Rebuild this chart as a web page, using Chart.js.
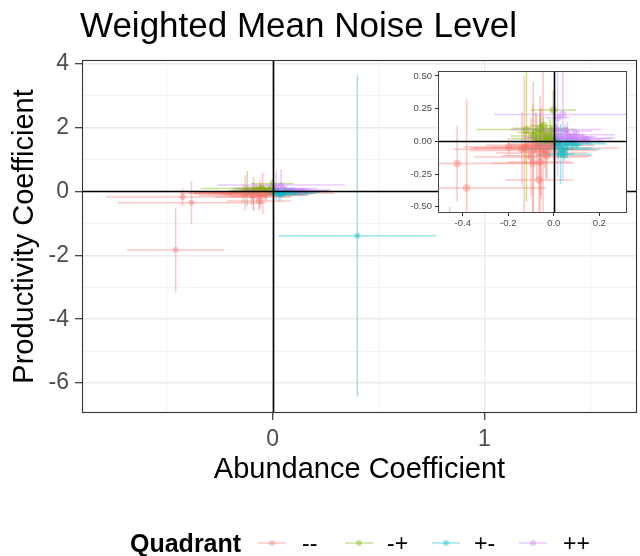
<!DOCTYPE html>
<html><head><meta charset="utf-8">
<script src="https://cdn.jsdelivr.net/npm/chart.js@4.4.0/dist/chart.umd.min.js"></script>
<style>
html,body{margin:0;padding:0;background:#fff;}
#wrap{position:relative;width:640px;height:556px;overflow:hidden;}
#main{position:absolute;left:0;top:0;}
#inset{position:absolute;left:400px;top:62px;}
</style></head><body>
<div id="wrap"><canvas id="main" width="640" height="556"></canvas><canvas id="inset" width="235" height="175"></canvas></div>
<script>
// ---------- data ----------
const quadrants = ['--', '-+', '+-', '++'];
const quadColors = ['#F8766D', '#7CAE00', '#00BFC4', '#C77CFF'];

const negNegX    = [-0.458, -0.425, -0.383, -0.198, -0.130, -0.126, -0.092, -0.060, -0.065, -0.047, -0.090, -0.110, -0.075, -0.035, -0.020, -0.055, -0.100, -0.015, -0.040, -0.080, -0.140, -0.030, -0.060];
const negNegY    = [-1.830, -0.170, -0.356, -0.043, -0.050, -0.046, -0.166, -0.158, -0.295, -0.060, -0.070, -0.030, -0.040, -0.080, -0.035, -0.090, -0.120, -0.020, -0.050, -0.020, -0.060, -0.110, -0.030];
const negNegXErr = [0.230, 0.360, 0.350, 0.200, 0.220, 0.150, 0.180, 0.140, 0.150, 0.140, 0.280, 0.080, 0.100, 0.090, 0.060, 0.200, 0.250, 0.050, 0.330, 0.120, 0.300, 0.200, 0.240];
const negNegYErr = [1.330, 0.290, 0.680, 0.070, 0.550, 0.120, 0.450, 0.400, 0.300, 0.640, 0.520, 0.100, 0.250, 0.200, 0.080, 0.350, 0.300, 0.050, 0.150, 0.060, 0.280, 0.180, 0.380];

const negPosX    = [-0.002, -0.120, -0.050, -0.030, -0.070, -0.015, -0.040, -0.090, -0.020, -0.060, -0.010, -0.005, -0.080, -0.045];
const negPosY    = [0.240, 0.090, 0.060, 0.030, 0.020, 0.080, 0.010, 0.040, 0.015, 0.100, 0.040, 0.005, 0.070, 0.120];
const negPosXErr = [0.100, 0.220, 0.090, 0.060, 0.120, 0.070, 0.050, 0.100, 0.030, 0.120, 0.030, 0.020, 0.080, 0.060];
const negPosYErr = [0.150, 0.550, 0.080, 0.050, 0.040, 0.090, 0.030, 0.060, 0.030, 0.100, 0.080, 0.020, 0.150, 0.070];

const posNegX    = [0.400, 0.030, 0.079, 0.020, 0.050, 0.010, 0.100, 0.035, 0.015, 0.060, 0.045];
const posNegY    = [-1.390, -0.097, -0.018, -0.030, -0.050, -0.010, -0.020, -0.060, -0.005, -0.010, -0.100];
const posNegXErr = [0.372, 0.060, 0.150, 0.100, 0.120, 0.040, 0.070, 0.170, 0.200, 0.030, 0.120];
const posNegYErr = [5.030, 0.230, 0.050, 0.100, 0.080, 0.030, 0.040, 0.060, 0.020, 0.120, 0.050];

const posPosX    = [0.040, 0.085, 0.127, 0.060, 0.020, 0.100, 0.035, 0.017, 0.145, 0.010, 0.070, 0.010, 0.100, 0.050];
const posPosY    = [0.205, 0.036, 0.020, 0.050, 0.030, 0.010, 0.015, 0.180, 0.012, 0.090, 0.025, 0.005, 0.050, 0.080];
const posPosXErr = [0.300, 0.100, 0.130, 0.080, 0.150, 0.060, 0.050, 0.050, 0.070, 0.200, 0.200, 0.030, 0.170, 0.120];
const posPosYErr = [0.500, 0.060, 0.040, 0.100, 0.080, 0.030, 0.050, 0.450, 0.030, 0.050, 0.040, 0.020, 0.040, 0.050];

// tick values / labels
const mainXMajor = [0, 1];
const mainXMajorLabels = ['0', '1'];
const mainXMinor = [-0.5, 0.5, 1.5];
const mainYMajor = [-6, -4, -2, 0, 2, 4];
const mainYMajorLabels = ['-6', '-4', '-2', '0', '2', '4'];
const mainYMinor = [-5, -3, -1, 1, 3];
const insetXTicks = [-0.4, -0.2, 0, 0.2];
const insetXLabels = ['-0.4', '-0.2', '0.0', '0.2'];
const insetYTicks = [-0.5, -0.25, 0, 0.25, 0.5];
const insetYLabels = ['-0.50', '-0.25', '0.00', '0.25', '0.50'];

const titleText = 'Weighted Mean Noise Level';
const xTitle = 'Abundance Coefficient';
const yTitle = 'Productivity Coefficient';
const legendTitle = 'Quadrant';

// ---------- helpers ----------
const FONT = '"Liberation Sans", Arial, sans-serif';
const ALPHA = 0.4;
function rgba(hex, a) {
  const n = parseInt(hex.slice(1), 16);
  return `rgba(${(n >> 16) & 255},${(n >> 8) & 255},${n & 255},${a})`;
}
const series = [
  [negNegX, negNegY, negNegXErr, negNegYErr],
  [negPosX, negPosY, negPosXErr, negPosYErr],
  [posNegX, posNegY, posNegXErr, posNegYErr],
  [posPosX, posPosY, posPosXErr, posPosYErr]
];
function makeDatasets(radius) {
  return series.map((s, i) => ({
    label: quadrants[i],
    data: s[0].map((x, j) => ({ x: x, y: s[1][j] })),
    xErr: s[2], yErr: s[3],
    backgroundColor: rgba(quadColors[i], ALPHA),
    borderWidth: 0,
    pointRadius: radius,
    pointHoverRadius: radius
  }));
}

const errorBars = {
  id: 'errorBars',
  beforeDatasetsDraw(chart, args, opts) {
    const { ctx, chartArea: a, scales } = chart;
    const sx = scales.x, sy = scales.y;
    ctx.save();
    ctx.beginPath();
    ctx.rect(a.left, a.top, a.right - a.left, a.bottom - a.top);
    ctx.clip();
    ctx.lineWidth = opts.lineWidth || 1.5;
    chart.data.datasets.forEach((ds, i) => {
      ctx.strokeStyle = rgba(quadColors[i], ALPHA);
      ds.data.forEach((p, j) => {
        const xe = ds.xErr[j], ye = ds.yErr[j];
        const px = sx.getPixelForValue(p.x), py = sy.getPixelForValue(p.y);
        ctx.beginPath();
        ctx.moveTo(sx.getPixelForValue(p.x - xe), py);
        ctx.lineTo(sx.getPixelForValue(p.x + xe), py);
        ctx.stroke();
        ctx.beginPath();
        ctx.moveTo(px, sy.getPixelForValue(p.y - ye));
        ctx.lineTo(px, sy.getPixelForValue(p.y + ye));
        ctx.stroke();
      });
    });
    ctx.restore();
  },
  afterDatasetsDraw(chart, args, opts) {
    const { ctx, chartArea: a, scales } = chart;
    const x0 = Math.round(scales.x.getPixelForValue(0)) + 0.5;
    const y0 = Math.round(scales.y.getPixelForValue(0)) + 0.5;
    ctx.save();
    ctx.strokeStyle = '#000';
    ctx.lineWidth = opts.zeroWidth || 1.6;
    ctx.beginPath();
    ctx.moveTo(a.left, y0); ctx.lineTo(a.right, y0);
    ctx.moveTo(x0, a.top); ctx.lineTo(x0, a.bottom);
    ctx.stroke();
    ctx.strokeStyle = '#333333';
    ctx.lineWidth = opts.borderWidth || 1.1;
    ctx.strokeRect(a.left + 0.5, a.top + 0.5, a.right - a.left - 1, a.bottom - a.top - 1);
    ctx.restore();
  },
  beforeDraw(chart, args, opts) {
    if (!opts.panelFill) return;
    const { ctx, chartArea: a } = chart;
    ctx.save();
    ctx.fillStyle = opts.panelFill;
    ctx.fillRect(a.left, a.top, a.right - a.left, a.bottom - a.top);
    ctx.restore();
  }
};

const decorations = {
  id: 'decorations',
  afterDraw(chart) {
    const ctx = chart.ctx;
    ctx.save();
    ctx.fillStyle = '#000';
    ctx.textBaseline = 'alphabetic';
    // title
    ctx.font = `35px ${FONT}`;
    ctx.textAlign = 'left';
    ctx.fillText(titleText, 80, 37);
    // x title
    ctx.font = `29px ${FONT}`;
    ctx.textAlign = 'center';
    const a = chart.chartArea;
    ctx.fillText(xTitle, (a.left + a.right) / 2, 478);
    // y title
    ctx.save();
    ctx.translate(33, (a.top + a.bottom) / 2);
    ctx.rotate(-Math.PI / 2);
    ctx.fillText(yTitle, 0, 0);
    ctx.restore();
    // legend
    ctx.textAlign = 'left';
    ctx.font = `bold 25px ${FONT}`;
    ctx.fillText(legendTitle, 130, 552);
    const keyCenters = [272, 359, 446, 533];
    const labelX = [302, 387, 474, 563];
    const ly = 543;
    ctx.font = `23px ${FONT}`;
    quadrants.forEach((q, i) => {
      ctx.strokeStyle = rgba(quadColors[i], ALPHA);
      ctx.lineWidth = 1.5;
      ctx.beginPath();
      ctx.moveTo(keyCenters[i] - 14, ly);
      ctx.lineTo(keyCenters[i] + 14, ly);
      ctx.stroke();
      ctx.fillStyle = rgba(quadColors[i], ALPHA);
      ctx.beginPath();
      ctx.arc(keyCenters[i], ly, 3, 0, Math.PI * 2);
      ctx.fill();
      ctx.fillStyle = '#000';
      ctx.fillText(q, labelX[i], 551);
    });
    ctx.restore();
  }
};

// ---------- main chart ----------
function isIn(arr, v) { return arr.some(m => Math.abs(m - v) < 1e-9); }
const mainXTicks = mainXMinor.concat(mainXMajor).sort((a, b) => a - b);
const mainYTicks = mainYMinor.concat(mainYMajor).sort((a, b) => a - b);

new Chart(document.getElementById('main'), {
  type: 'scatter',
  data: { datasets: makeDatasets(3) },
  plugins: [errorBars, decorations],
  options: {
    responsive: false, animation: false, devicePixelRatio: 1,
    layout: { padding: { left: 0, right: 1, top: 60, bottom: 0 } },
    plugins: {
      legend: { display: false }, title: { display: false }, tooltip: { enabled: false },
      errorBars: { lineWidth: 1.5, zeroWidth: 1.6, borderWidth: 1.1 }
    },
    scales: {
      x: {
        type: 'linear', min: -0.9, max: 1.72,
        afterBuildTicks: s => { s.ticks = mainXTicks.map(v => ({ value: v })); },
        afterFit: s => { s.height = 143; },
        border: { display: false },
        grid: {
          color: c => isIn(mainXMajor, c.tick.value) ? '#EBEBEB' : '#F0F0F0',
          lineWidth: c => isIn(mainXMajor, c.tick.value) ? 1.4 : 0.8,
          tickColor: c => isIn(mainXMajor, c.tick.value) ? '#333333' : 'rgba(0,0,0,0)',
          tickLength: 7, tickWidth: 1.2
        },
        ticks: {
          autoSkip: false, maxRotation: 0, padding: 6, color: '#4D4D4D',
          font: { family: FONT, size: 23 },
          callback: v => { const k = mainXMajor.findIndex(m => Math.abs(m - v) < 1e-9); return k >= 0 ? mainXMajorLabels[k] : ''; }
        }
      },
      y: {
        type: 'linear', min: -6.94, max: 4.12,
        afterBuildTicks: s => { s.ticks = mainYTicks.map(v => ({ value: v })); },
        afterFit: s => { s.width = 82; },
        border: { display: false },
        grid: {
          color: c => isIn(mainYMajor, c.tick.value) ? '#EBEBEB' : '#F0F0F0',
          lineWidth: c => isIn(mainYMajor, c.tick.value) ? 1.4 : 0.8,
          tickColor: c => isIn(mainYMajor, c.tick.value) ? '#333333' : 'rgba(0,0,0,0)',
          tickLength: 7, tickWidth: 1.2
        },
        ticks: {
          autoSkip: false, padding: 6, color: '#4D4D4D',
          font: { family: FONT, size: 23 },
          callback: v => { const k = mainYMajor.findIndex(m => Math.abs(m - v) < 1e-9); return k >= 0 ? mainYMajorLabels[k] : ''; }
        }
      }
    }
  }
});

// ---------- inset chart ----------
new Chart(document.getElementById('inset'), {
  type: 'scatter',
  data: { datasets: makeDatasets(3.8) },
  plugins: [errorBars],
  options: {
    responsive: false, animation: false, devicePixelRatio: 1,
    layout: { padding: { left: 0, right: 8, top: 9, bottom: 0 } },
    plugins: {
      legend: { display: false }, title: { display: false }, tooltip: { enabled: false },
      errorBars: { lineWidth: 1.5, zeroWidth: 1.6, borderWidth: 0.9, panelFill: '#ffffff' }
    },
    scales: {
      x: {
        type: 'linear', min: -0.509, max: 0.322,
        afterBuildTicks: s => { s.ticks = insetXTicks.map(v => ({ value: v })); },
        afterFit: s => { s.height = 24; },
        border: { display: false },
        grid: { drawOnChartArea: false, tickColor: '#333333', tickLength: 3, tickWidth: 1 },
        ticks: {
          autoSkip: false, maxRotation: 0, padding: 2, color: '#4D4D4D',
          font: { family: FONT, size: 9.5 },
          callback: v => { const k = insetXTicks.findIndex(m => Math.abs(m - v) < 1e-9); return k >= 0 ? insetXLabels[k] : ''; }
        }
      },
      y: {
        type: 'linear', min: -0.548, max: 0.538,
        afterBuildTicks: s => { s.ticks = insetYTicks.map(v => ({ value: v })); },
        afterFit: s => { s.width = 38; },
        border: { display: false },
        grid: { drawOnChartArea: false, tickColor: '#333333', tickLength: 3, tickWidth: 1 },
        ticks: {
          autoSkip: false, padding: 3, color: '#4D4D4D',
          font: { family: FONT, size: 9.5 },
          callback: v => { const k = insetYTicks.findIndex(m => Math.abs(m - v) < 1e-9); return k >= 0 ? insetYLabels[k] : ''; }
        }
      }
    }
  }
});
</script>
</body></html>
